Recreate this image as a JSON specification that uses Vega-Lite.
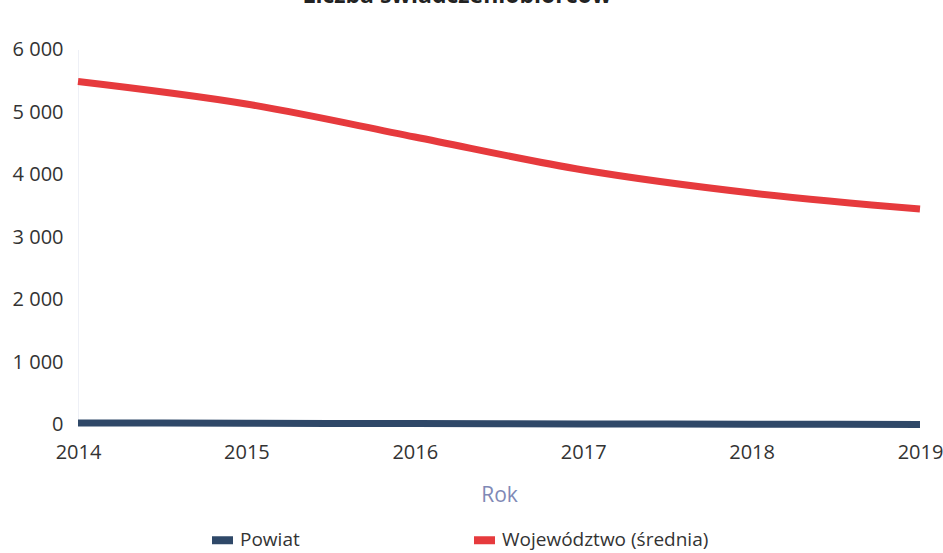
{
  "$schema": "https://vega.github.io/schema/vega-lite/v6.json",
  "autosize": "none",
  "width": 842,
  "height": 375,
  "padding": {"left": 78, "top": 49.5, "right": 23, "bottom": 128.5},
  "background": "white",
  "title": {
    "text": "Liczba świadczeniobiorców",
    "anchor": "middle",
    "frame": "group",
    "baseline": "bottom",
    "offset": 25,
    "dy": 16,
    "dx": -42,
    "fontSize": 23,
    "fontWeight": "bold",
    "font": "Open Sans",
    "color": "#222222"
  },
  "data": {
    "values": [
      {"rok": 2014, "seria": "Powiat", "wartosc": 25},
      {"rok": 2015, "seria": "Powiat", "wartosc": 20},
      {"rok": 2016, "seria": "Powiat", "wartosc": 15},
      {"rok": 2017, "seria": "Powiat", "wartosc": 10},
      {"rok": 2018, "seria": "Powiat", "wartosc": 5},
      {"rok": 2019, "seria": "Powiat", "wartosc": 0},
      {"rok": 2014, "seria": "Województwo (średnia)", "wartosc": 5488},
      {"rok": 2015, "seria": "Województwo (średnia)", "wartosc": 5128},
      {"rok": 2016, "seria": "Województwo (średnia)", "wartosc": 4600},
      {"rok": 2017, "seria": "Województwo (średnia)", "wartosc": 4072},
      {"rok": 2018, "seria": "Województwo (średnia)", "wartosc": 3704},
      {"rok": 2019, "seria": "Województwo (średnia)", "wartosc": 3448}
    ]
  },
  "mark": {"type": "line", "interpolate": "monotone", "strokeWidth": 7, "strokeCap": "butt"},
  "encoding": {
    "x": {
      "field": "rok",
      "type": "quantitative",
      "scale": {"domain": [2014, 2019], "nice": false, "zero": false},
      "axis": {
        "title": "Rok",
        "values": [2014, 2015, 2016, 2017, 2018, 2019],
        "format": "d",
        "grid": false,
        "domain": false,
        "ticks": false,
        "labelPadding": 18,
        "labelFontSize": 20,
        "labelFont": "Open Sans",
        "labelColor": "#333333",
        "labelFlush": false,
        "titleFont": "Open Sans",
        "titleFontSize": 21,
        "titleFontWeight": "normal",
        "titleColor": "#7f89b6",
        "titlePadding": 22
      }
    },
    "y": {
      "field": "wartosc",
      "type": "quantitative",
      "scale": {"domain": [0, 6000], "nice": false},
      "axis": {
        "title": null,
        "values": [0, 1000, 2000, 3000, 4000, 5000, 6000],
        "labelExpr": "replace(format(datum.value, ','), ',', ' ')",
        "grid": false,
        "domain": true,
        "domainColor": "#eef0f6",
        "ticks": false,
        "labelPadding": 15,
        "labelFontSize": 20,
        "labelFont": "Open Sans",
        "labelColor": "#333333"
      }
    },
    "color": {
      "field": "seria",
      "type": "nominal",
      "scale": {"domain": ["Powiat", "Województwo (średnia)"], "range": ["#2f4868", "#e63a3d"]},
      "legend": {
        "title": null,
        "orient": "none",
        "direction": "horizontal",
        "legendX": 130,
        "legendY": 476,
        "symbolType": "stroke",
        "symbolSize": 441,
        "symbolStrokeWidth": 8,
        "labelFontSize": 19,
        "labelFont": "Open Sans",
        "labelColor": "#333333",
        "labelOffset": 3,
        "labelLimit": 400,
        "columnPadding": 158
      }
    }
  },
  "config": {"view": {"stroke": null}}
}
